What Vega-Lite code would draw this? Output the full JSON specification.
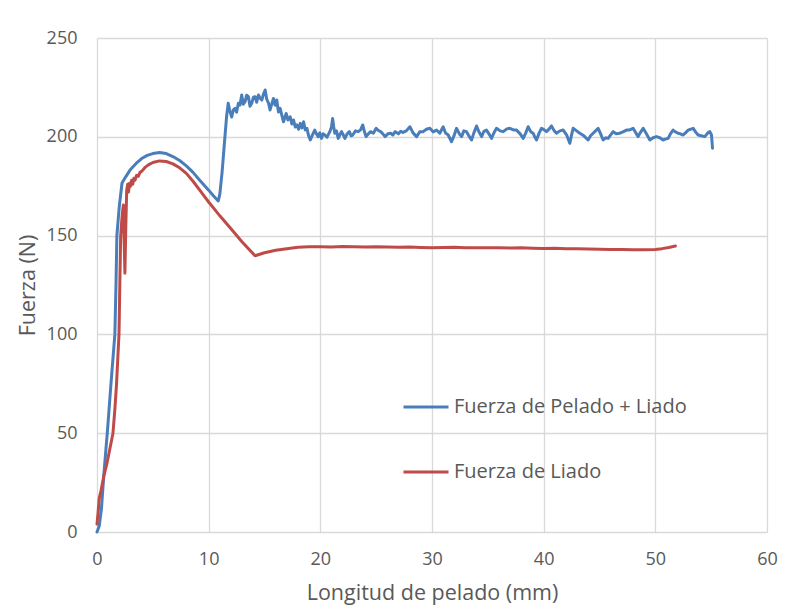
{
  "$schema": "https://vega.github.io/schema/vega-lite/v6.json",
  "width": 670,
  "height": 494,
  "autosize": {"type": "none"},
  "padding": {"left": 97, "top": 38, "right": 23, "bottom": 81},
  "background": "white",
  "config": {
    "view": {"stroke": null},
    "font": "Open Sans",
    "axis": {
      "grid": true,
      "gridColor": "#d9d9d9",
      "gridWidth": 1.3,
      "domain": false,
      "ticks": false,
      "labelFont": "Open Sans",
      "labelFontSize": 18,
      "labelColor": "#595959",
      "titleFont": "Open Sans",
      "titleFontSize": 21.5,
      "titleFontWeight": "normal",
      "titleColor": "#595959"
    },
    "legend": {
      "labelFont": "Open Sans",
      "labelFontSize": 20,
      "labelColor": "#595959",
      "labelLimit": 0
    }
  },
  "encoding": {
    "x": {
      "field": "x",
      "type": "quantitative",
      "scale": {"domain": [0, 60], "nice": false},
      "axis": {"values": [0, 10, 20, 30, 40, 50, 60], "title": "Longitud de pelado (mm)", "labelPadding": 18, "titlePadding": 14, "labelFlush": false}
    },
    "y": {
      "field": "y",
      "type": "quantitative",
      "scale": {"domain": [0, 250], "nice": false},
      "axis": {"values": [0, 50, 100, 150, 200, 250], "title": "Fuerza (N)", "labelPadding": 20, "titlePadding": 7, "labelFlush": false}
    },
    "color": {
      "type": "nominal",
      "scale": {
        "domain": ["Fuerza de Pelado + Liado", "Fuerza de Liado"],
        "range": ["#4a7ebb", "#be4b48"]
      },
      "legend": {
        "title": null,
        "orient": "none",
        "legendX": 305,
        "legendY": 345,
        "symbolType": "stroke",
        "symbolSize": 2025,
        "symbolStrokeWidth": 3,
        "labelOffset": 4,
        "rowPadding": 31
      }
    }
  },
  "layer": [
    {
      "data": {"values": [
        {"x": 0, "y": 0}, {"x": 0.2, "y": 3}, {"x": 0.4, "y": 12}, {"x": 0.6, "y": 28}, {"x": 0.8, "y": 42},
        {"x": 0.92, "y": 50}, {"x": 1.25, "y": 75}, {"x": 1.6, "y": 100}, {"x": 1.7, "y": 125}, {"x": 1.78, "y": 150},
        {"x": 2.0, "y": 165}, {"x": 2.24, "y": 176.6}, {"x": 2.6, "y": 180}, {"x": 3.0, "y": 183.5}, {"x": 3.5, "y": 186.5},
        {"x": 4.0, "y": 189}, {"x": 4.5, "y": 190.6}, {"x": 5.0, "y": 191.5}, {"x": 5.6, "y": 192}, {"x": 6.2, "y": 191.5},
        {"x": 6.8, "y": 190}, {"x": 7.4, "y": 188}, {"x": 8.0, "y": 185.3}, {"x": 8.6, "y": 182}, {"x": 9.2, "y": 178},
        {"x": 9.6, "y": 175.5}, {"x": 10.0, "y": 173}, {"x": 10.4, "y": 170.3}, {"x": 10.86, "y": 167.5}, {"x": 11.0, "y": 171},
        {"x": 11.2, "y": 182}, {"x": 11.4, "y": 196}, {"x": 11.6, "y": 210}, {"x": 11.75, "y": 217}, {"x": 11.9, "y": 213},
        {"x": 12.06, "y": 210}, {"x": 12.2, "y": 213.5}, {"x": 12.36, "y": 214.4}, {"x": 12.5, "y": 212.5}, {"x": 12.66, "y": 217},
        {"x": 12.8, "y": 216}, {"x": 12.96, "y": 221.2}, {"x": 13.1, "y": 216.5}, {"x": 13.26, "y": 217.8}, {"x": 13.4, "y": 221},
        {"x": 13.56, "y": 220.3}, {"x": 13.7, "y": 215.5}, {"x": 13.86, "y": 217}, {"x": 14.0, "y": 220}, {"x": 14.16, "y": 220.3},
        {"x": 14.3, "y": 217.5}, {"x": 14.46, "y": 221.2}, {"x": 14.6, "y": 219.5}, {"x": 14.76, "y": 218.6}, {"x": 14.9, "y": 221.5},
        {"x": 15.06, "y": 223.7}, {"x": 15.2, "y": 219}, {"x": 15.36, "y": 217}, {"x": 15.5, "y": 213.6}, {"x": 15.65, "y": 216.5},
        {"x": 15.8, "y": 219.4}, {"x": 15.95, "y": 216}, {"x": 16.1, "y": 218.6}, {"x": 16.25, "y": 212.5}, {"x": 16.4, "y": 214.4},
        {"x": 16.55, "y": 211}, {"x": 16.7, "y": 207.6}, {"x": 16.94, "y": 211.8}, {"x": 17.1, "y": 208.5}, {"x": 17.3, "y": 210.1},
        {"x": 17.45, "y": 206.5}, {"x": 17.6, "y": 208.5}, {"x": 17.75, "y": 205}, {"x": 17.9, "y": 206}, {"x": 18.05, "y": 203.8},
        {"x": 18.2, "y": 206.8}, {"x": 18.35, "y": 204.5}, {"x": 18.5, "y": 207.6}, {"x": 18.65, "y": 203.5}, {"x": 18.8, "y": 204.3},
        {"x": 18.95, "y": 200.5}, {"x": 19.1, "y": 198.4}, {"x": 19.3, "y": 201}, {"x": 19.5, "y": 203.4}, {"x": 19.65, "y": 201.5},
        {"x": 19.8, "y": 200.1}, {"x": 19.95, "y": 202}, {"x": 20.1, "y": 199.2}, {"x": 20.25, "y": 201.5}, {"x": 20.4, "y": 200.9},
        {"x": 20.6, "y": 199.8}, {"x": 20.85, "y": 202.6}, {"x": 21.0, "y": 205}, {"x": 21.1, "y": 209.3}, {"x": 21.2, "y": 205},
        {"x": 21.3, "y": 201.8}, {"x": 21.45, "y": 203}, {"x": 21.6, "y": 199.2}, {"x": 21.75, "y": 201}, {"x": 21.9, "y": 202.6},
        {"x": 22.05, "y": 201}, {"x": 22.2, "y": 199.2}, {"x": 22.4, "y": 201.5}, {"x": 22.6, "y": 202.6}, {"x": 22.75, "y": 200.5},
        {"x": 22.9, "y": 200.9}, {"x": 23.15, "y": 203}, {"x": 23.4, "y": 202.6}, {"x": 23.6, "y": 203.5}, {"x": 23.8, "y": 206},
        {"x": 23.95, "y": 202.5}, {"x": 24.1, "y": 200.1}, {"x": 24.3, "y": 201.5}, {"x": 24.5, "y": 202.6}, {"x": 24.75, "y": 201.8},
        {"x": 25.0, "y": 204.3}, {"x": 25.2, "y": 203.2}, {"x": 25.4, "y": 202.6}, {"x": 25.6, "y": 201.5}, {"x": 25.8, "y": 200.1},
        {"x": 26.05, "y": 201.5}, {"x": 26.3, "y": 201.8}, {"x": 26.5, "y": 200.9}, {"x": 26.7, "y": 202.6}, {"x": 27.0, "y": 201.5},
        {"x": 27.2, "y": 202.8}, {"x": 27.4, "y": 202.2}, {"x": 27.7, "y": 203}, {"x": 28.02, "y": 205.1}, {"x": 28.3, "y": 202},
        {"x": 28.62, "y": 200.1}, {"x": 28.9, "y": 202.5}, {"x": 29.21, "y": 202.6}, {"x": 29.5, "y": 203.8}, {"x": 29.81, "y": 204.3},
        {"x": 30.1, "y": 202.5}, {"x": 30.41, "y": 203.4}, {"x": 30.7, "y": 201.8}, {"x": 31.0, "y": 205.1}, {"x": 31.2, "y": 202},
        {"x": 31.45, "y": 200.9}, {"x": 31.75, "y": 197.5}, {"x": 32.0, "y": 201}, {"x": 32.2, "y": 204.3}, {"x": 32.45, "y": 201.5},
        {"x": 32.65, "y": 200.1}, {"x": 32.85, "y": 203}, {"x": 33.09, "y": 202.6}, {"x": 33.3, "y": 200.5}, {"x": 33.54, "y": 198.4},
        {"x": 33.75, "y": 202}, {"x": 33.99, "y": 205.5}, {"x": 34.2, "y": 202.5}, {"x": 34.44, "y": 200.1}, {"x": 34.65, "y": 202.8},
        {"x": 34.88, "y": 203.4}, {"x": 35.1, "y": 201.5}, {"x": 35.33, "y": 199.2}, {"x": 35.55, "y": 202}, {"x": 35.78, "y": 204.3},
        {"x": 36.1, "y": 203}, {"x": 36.38, "y": 202.6}, {"x": 36.7, "y": 204}, {"x": 36.97, "y": 204.3}, {"x": 37.3, "y": 203.5},
        {"x": 37.57, "y": 203.4}, {"x": 37.9, "y": 201.5}, {"x": 38.17, "y": 199.2}, {"x": 38.4, "y": 202}, {"x": 38.61, "y": 205.1},
        {"x": 38.85, "y": 202.5}, {"x": 39.06, "y": 201.8}, {"x": 39.2, "y": 200}, {"x": 39.36, "y": 198.4}, {"x": 39.6, "y": 202},
        {"x": 39.81, "y": 204.3}, {"x": 40.05, "y": 203.5}, {"x": 40.25, "y": 202.6}, {"x": 40.5, "y": 204}, {"x": 40.7, "y": 205.5},
        {"x": 40.95, "y": 203}, {"x": 41.15, "y": 201.8}, {"x": 41.45, "y": 203}, {"x": 41.75, "y": 203.4}, {"x": 42.05, "y": 201},
        {"x": 42.34, "y": 196.7}, {"x": 42.5, "y": 201}, {"x": 42.64, "y": 204.3}, {"x": 42.95, "y": 203}, {"x": 43.24, "y": 201.8},
        {"x": 43.6, "y": 200.5}, {"x": 43.98, "y": 198.4}, {"x": 44.2, "y": 200.5}, {"x": 44.43, "y": 201.8}, {"x": 44.65, "y": 203},
        {"x": 44.88, "y": 204.3}, {"x": 45.1, "y": 201.5}, {"x": 45.33, "y": 198.4}, {"x": 45.55, "y": 199.5}, {"x": 45.77, "y": 199.2},
        {"x": 46.0, "y": 201}, {"x": 46.22, "y": 202.6}, {"x": 46.5, "y": 201.5}, {"x": 46.82, "y": 201.8}, {"x": 47.1, "y": 202.5},
        {"x": 47.42, "y": 203.4}, {"x": 47.7, "y": 203.5}, {"x": 48.01, "y": 204.3}, {"x": 48.25, "y": 202}, {"x": 48.46, "y": 200.1},
        {"x": 48.7, "y": 202.5}, {"x": 48.91, "y": 204.3}, {"x": 49.2, "y": 201.5}, {"x": 49.51, "y": 198.4}, {"x": 49.8, "y": 199.5},
        {"x": 50.1, "y": 200.1}, {"x": 50.4, "y": 199.5}, {"x": 50.7, "y": 198.4}, {"x": 50.9, "y": 198.8}, {"x": 51.15, "y": 199.2},
        {"x": 51.35, "y": 201.5}, {"x": 51.59, "y": 203.4}, {"x": 51.8, "y": 202.5}, {"x": 52.04, "y": 201.8}, {"x": 52.25, "y": 201.5},
        {"x": 52.49, "y": 200.9}, {"x": 52.7, "y": 202}, {"x": 52.94, "y": 203.4}, {"x": 53.15, "y": 203.8}, {"x": 53.39, "y": 204.3},
        {"x": 53.6, "y": 202.5}, {"x": 53.83, "y": 200.9}, {"x": 54.1, "y": 200.5}, {"x": 54.43, "y": 200.1}, {"x": 54.7, "y": 202},
        {"x": 54.88, "y": 202.6}, {"x": 55.03, "y": 200.9}, {"x": 55.12, "y": 194.2}
      ]},
      "mark": {"type": "line", "strokeWidth": 3, "strokeJoin": "round", "strokeCap": "round"},
      "encoding": {"color": {"datum": "Fuerza de Pelado + Liado"}}
    },
    {
      "data": {"values": [
        {"x": 0, "y": 4}, {"x": 0.1, "y": 10}, {"x": 0.2, "y": 17}, {"x": 0.36, "y": 21}, {"x": 0.6, "y": 28},
        {"x": 0.9, "y": 35}, {"x": 1.15, "y": 42}, {"x": 1.43, "y": 50}, {"x": 1.6, "y": 62}, {"x": 1.75, "y": 75},
        {"x": 1.88, "y": 90}, {"x": 1.97, "y": 100}, {"x": 2.02, "y": 117}, {"x": 2.12, "y": 150}, {"x": 2.25, "y": 160},
        {"x": 2.36, "y": 165.5}, {"x": 2.42, "y": 150}, {"x": 2.5, "y": 131}, {"x": 2.58, "y": 155}, {"x": 2.66, "y": 173},
        {"x": 2.75, "y": 176}, {"x": 2.82, "y": 172}, {"x": 2.92, "y": 176.5}, {"x": 3.0, "y": 175}, {"x": 3.1, "y": 178},
        {"x": 3.2, "y": 176}, {"x": 3.3, "y": 179}, {"x": 3.4, "y": 178}, {"x": 3.55, "y": 180.5}, {"x": 3.7, "y": 180},
        {"x": 3.85, "y": 182}, {"x": 4.0, "y": 182.5}, {"x": 4.3, "y": 184.5}, {"x": 4.6, "y": 185.8}, {"x": 5.0, "y": 187},
        {"x": 5.6, "y": 187.8}, {"x": 6.2, "y": 187.5}, {"x": 6.8, "y": 186.3}, {"x": 7.4, "y": 184.3}, {"x": 8.0, "y": 181.5},
        {"x": 8.6, "y": 177.5}, {"x": 9.2, "y": 173}, {"x": 9.6, "y": 170}, {"x": 10.0, "y": 167}, {"x": 10.5, "y": 163.5},
        {"x": 11.0, "y": 160}, {"x": 12.0, "y": 153.5}, {"x": 13.0, "y": 146.8}, {"x": 14.15, "y": 139.8}, {"x": 15.0, "y": 141.3},
        {"x": 16.0, "y": 142.6}, {"x": 17.0, "y": 143.4}, {"x": 18.0, "y": 144.1}, {"x": 19.0, "y": 144.4}, {"x": 20, "y": 144.3},
        {"x": 21, "y": 144.2}, {"x": 22, "y": 144.5}, {"x": 23, "y": 144.4}, {"x": 24, "y": 144.2}, {"x": 25, "y": 144.3},
        {"x": 26, "y": 144.2}, {"x": 27, "y": 144.1}, {"x": 28, "y": 144.2}, {"x": 29, "y": 144.0}, {"x": 30, "y": 143.8},
        {"x": 31, "y": 144.0}, {"x": 32, "y": 144.1}, {"x": 33, "y": 143.9}, {"x": 34, "y": 143.8}, {"x": 35, "y": 143.9},
        {"x": 36, "y": 143.8}, {"x": 37, "y": 143.7}, {"x": 38, "y": 143.8}, {"x": 39, "y": 143.6}, {"x": 40, "y": 143.5},
        {"x": 41, "y": 143.6}, {"x": 42, "y": 143.4}, {"x": 43, "y": 143.3}, {"x": 44, "y": 143.2}, {"x": 45, "y": 143.1},
        {"x": 46, "y": 143.0}, {"x": 47, "y": 143.0}, {"x": 48, "y": 142.9}, {"x": 49, "y": 142.8}, {"x": 50, "y": 143.0},
        {"x": 50.6, "y": 143.4}, {"x": 51.2, "y": 144.0}, {"x": 51.8, "y": 144.7}
      ]},
      "mark": {"type": "line", "strokeWidth": 3, "strokeJoin": "round", "strokeCap": "round"},
      "encoding": {"color": {"datum": "Fuerza de Liado"}}
    }
  ]
}
